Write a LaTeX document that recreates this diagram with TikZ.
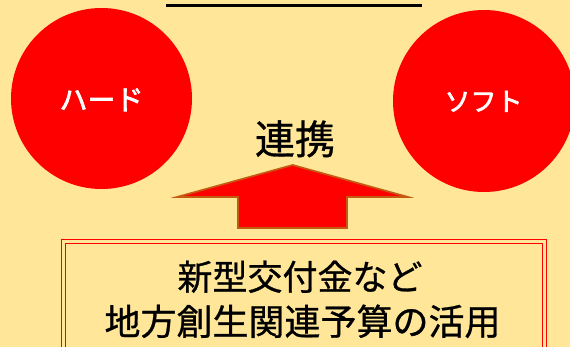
\documentclass[tikz,border=0pt]{standalone}
\usepackage{fontspec}
\newfontfamily\jp[FakeBold=0.8]{Noto Sans CJK JP}
\newfontfamily\jpb[FakeBold=2.5]{Noto Sans CJK JP}
\definecolor{bgyellow}{HTML}{FFE699}
\definecolor{arrowedge}{HTML}{C55A11}
\tikzset{
  redcircle/.style={circle, fill=red, inner sep=0pt},
  bigtext/.style={anchor=base, inner sep=0pt, text=black},
  whitetext/.style={anchor=base, inner sep=0pt, text=white, font=\jpb\fontsize{28}{32}\selectfont},
}
\begin{document}
\begin{tikzpicture}[x=1pt,y=-1pt]
\useasboundingbox (0,0) rectangle (570,347);
\fill[bgyellow] (0,0) rectangle (570,347);
\clip (0,0) rectangle (570,347);
% title underline (title text cut off above)
\coordinate (ul1) at (166,5.5);
\coordinate (ul2) at (421.5,5.5);
\draw[line width=2.2pt, black] (ul1) -- (ul2);
% circles
\node[redcircle, minimum size=181pt] (hard) at (101.5,98.5) {};
\node[whitetext] (hardtext) at (101.5,110) {ハード};
\node[redcircle, minimum size=182pt] (soft) at (484,101) {};
\node[whitetext, font=\jpb\fontsize{26}{30}\selectfont] (softtext) at (483.5,111) {ソフト};
% renkei
\node[bigtext, font=\jp\fontsize{40}{44}\selectfont] (renkei) at (295,154) {連携};
% arrow
\draw[fill=red, draw=arrowedge, line width=1.7pt, line join=miter]
  (292.7,165) -- (408,197) -- (347,197) -- (347,228) -- (238,228) -- (238,197) -- (177,197) -- cycle;
% double red box
\draw[red, line width=1.4pt] (61.7,239.3) rectangle (546.7,360);
\draw[red, line width=1.4pt] (65.5,243.3) rectangle (542.7,360);
\node[bigtext, font=\jp\fontsize{35}{40}\selectfont] (line1) at (300,290) {新型交付金など};
\node[bigtext, font=\jp\fontsize{36}{40}\selectfont] (line2) at (302.5,335) {地方創生関連予算の活用};
\end{tikzpicture}
\end{document}
